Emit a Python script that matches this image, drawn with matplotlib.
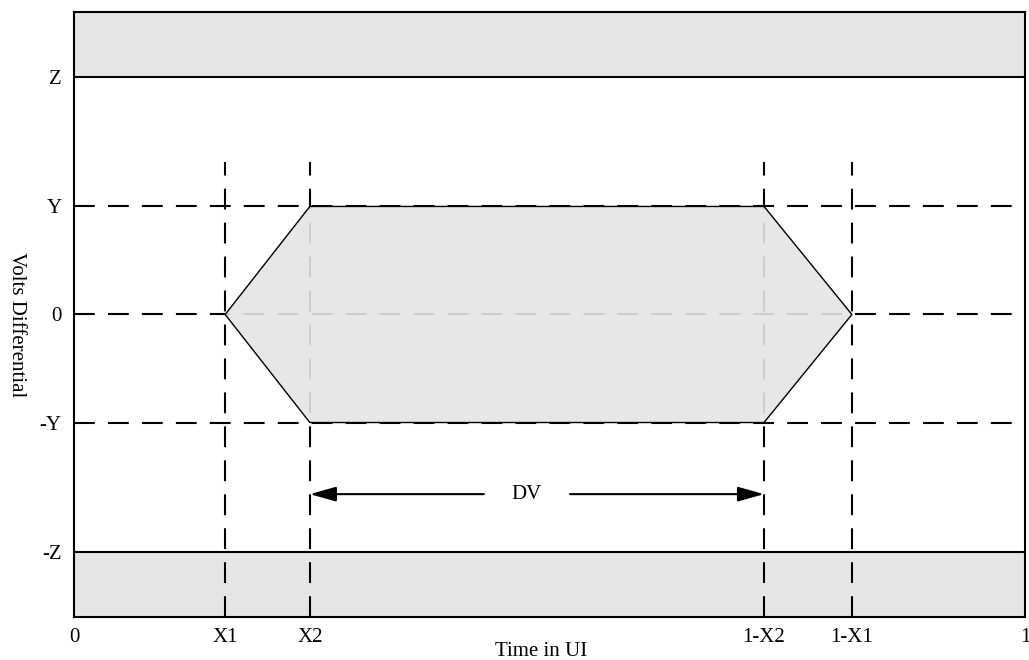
import matplotlib

matplotlib.use("Agg")
import matplotlib.pyplot as plt

plt.rcParams["font.family"] = ["Liberation Serif", "DejaVu Serif"]

# time positions (UI) of the guide lines
x_ticks = [0.0, 0.159, 0.248, 0.7256, 0.818, 1.0]
x_labels = ["0", "X1", "X2", "1-X2", "1-X1", "1"]
x_guides = [0.159, 0.248, 0.7256, 0.818]

# voltage levels (in units of Y)
y_ticks = [2.2, 1.0, 0.0, -1.0, -2.2]
y_labels = ["Z", "Y", "0", "-Y", "-Z"]
y_dashed = [1.0, 0.0, -1.0]
Z = 2.2
YLIM = 2.8
guide_top = 1.41

# eye mask polygon
eye_x = [0.159, 0.248, 0.7256, 0.818, 0.7256, 0.248, 0.159]
eye_y = [0.0, 1.0, 1.0, 0.0, -1.0, -1.0, 0.0]

dv_y = -1.663
dv_text_x = 0.476

GRAY = "#e5e5e5"
DASH = (0, (10, 6.3))
FS = 15

fig = plt.figure(figsize=(10.29, 6.60), dpi=100)
ax = fig.add_axes([0.0719, 0.0652, 0.9242, 0.9166])
ax.set_xlim(0, 1)
ax.set_ylim(-YLIM, YLIM)

# forbidden bands above Z and below -Z
ax.axhspan(Z, YLIM, color=GRAY, lw=0, zorder=0)
ax.axhspan(-YLIM, -Z, color=GRAY, lw=0, zorder=0)
ax.axhline(Z, color="black", lw=1.5, zorder=3)
ax.axhline(-Z, color="black", lw=1.5, zorder=3)

# dashed guides
for yv in y_dashed:
    ax.axhline(yv, color="black", lw=1.5, ls=DASH, zorder=1)
for xv in x_guides:
    ax.plot([xv, xv], [-YLIM, guide_top], color="black", lw=1.5, ls=DASH, zorder=1)

# eye mask
ax.fill(eye_x, eye_y, facecolor=GRAY, alpha=0.9, lw=0, zorder=2)
ax.plot(eye_x, eye_y, color="black", lw=1.0, zorder=3)

# DV arrow
ax.text(dv_text_x, dv_y, "DV", ha="center", va="center", fontsize=FS, zorder=4)
ax.annotate("", xy=(eye_x[1], dv_y), xytext=(0.431, dv_y),
            arrowprops=dict(arrowstyle="-|>,head_length=1.6,head_width=0.45",
                            color="black", lw=1.5, shrinkA=0, shrinkB=0))
ax.annotate("", xy=(eye_x[2], dv_y), xytext=(0.5216, dv_y),
            arrowprops=dict(arrowstyle="-|>,head_length=1.6,head_width=0.45",
                            color="black", lw=1.5, shrinkA=0, shrinkB=0))

ax.set_xticks(x_ticks)
ax.set_xticklabels(x_labels)
ax.set_yticks(y_ticks)
ax.set_yticklabels(y_labels)
ax.tick_params(length=0, labelsize=FS)
ax.tick_params(axis="x", pad=8)
ax.tick_params(axis="y", pad=9)
for s in ax.spines.values():
    s.set_linewidth(1.5)

ax.set_xlabel("Time in UI", fontsize=FS)
ax.xaxis.set_label_coords(0.491, -0.057)
ax.xaxis.label.set_va("center")
ax.set_ylabel("Volts Differential", fontsize=FS, rotation=270)
ax.yaxis.set_label_coords(-0.060, 0.484)
ax.yaxis.label.set_va("center")

fig.savefig("out.png", dpi=100)
